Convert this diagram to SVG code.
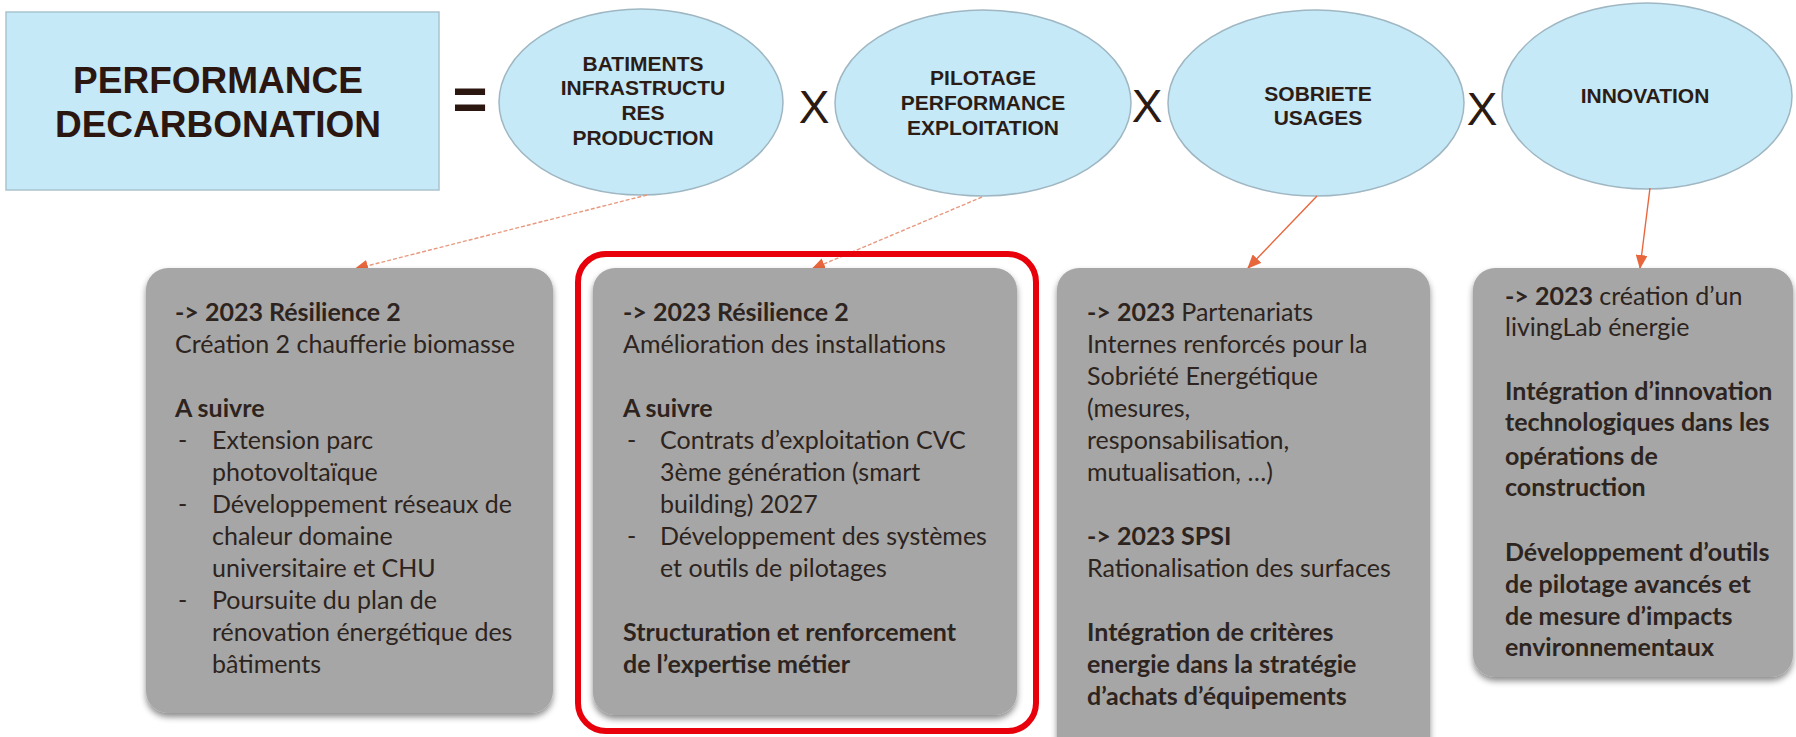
<svg xmlns="http://www.w3.org/2000/svg" width="1796" height="737" viewBox="0 0 1796 737">
<defs>
<filter id="sh" x="-10%" y="-10%" width="120%" height="120%">
<feDropShadow dx="0" dy="4" stdDeviation="3" flood-color="#000" flood-opacity="0.45"/>
</filter>
<marker id="ah" markerWidth="14" markerHeight="12" refX="13" refY="6" orient="auto" markerUnits="userSpaceOnUse">
<path d="M0,0 L14,6 L0,12 Z" fill="#e8663c"/>
</marker>
<style>
.blue{fill:#c6e9f8;stroke:#a8c3cf;stroke-width:1.5}
.ell{fill:#c6e9f8;stroke:#9fb7c2;stroke-width:1.5}
.etx{font-family:"Liberation Sans",Arial,sans-serif;font-weight:bold;font-size:21px;fill:#2b1d16;text-anchor:middle}
.title{font-family:"Liberation Sans",Arial,sans-serif;font-weight:bold;font-size:37px;fill:#2b1610;text-anchor:middle}
.op{font-family:"Liberation Sans",Arial,sans-serif;font-size:46px;fill:#2b1a12;text-anchor:middle}
.box{fill:#a6a6a6;filter:url(#sh)}
.t{font-family:Lato,"Open Sans",sans-serif;font-size:25px;fill:#2d2420}
.b{font-weight:bold}
.con{fill:none;stroke:#e8663c;stroke-width:1.4}
.dash{stroke:#e79a80;stroke-dasharray:4 2}
</style>
</defs>

<g id="title">
<rect class="blue" x="6" y="12" width="433" height="178"/>
<text class="title" x="218" y="93">PERFORMANCE</text>
<text class="title" x="218" y="137">DECARBONATION</text>
</g>

<g id="operators">
<text x="470" y="119" style="font-family:'Liberation Sans',Arial,sans-serif;font-weight:bold;font-size:60px;fill:#2b1610;text-anchor:middle">=</text>
<text class="op" x="814" y="123">X</text>
<text class="op" x="1147" y="122">X</text>
<text class="op" x="1482" y="125">X</text>
</g>

<g id="batiments">
<ellipse class="ell" cx="641" cy="102" rx="142" ry="93"/>
<text class="etx" x="643" y="71">BATIMENTS</text>
<text class="etx" x="643" y="95">INFRASTRUCTU</text>
<text class="etx" x="643" y="120">RES</text>
<text class="etx" x="643" y="145">PRODUCTION</text>
</g>

<g id="pilotage">
<ellipse class="ell" cx="983" cy="103" rx="148" ry="93"/>
<text class="etx" x="983" y="85">PILOTAGE</text>
<text class="etx" x="983" y="110">PERFORMANCE</text>
<text class="etx" x="983" y="135">EXPLOITATION</text>
</g>

<g id="sobriete">
<ellipse class="ell" cx="1316" cy="103" rx="148" ry="93"/>
<text class="etx" x="1318" y="101">SOBRIETE</text>
<text class="etx" x="1318" y="125">USAGES</text>
</g>

<g id="innovation">
<ellipse class="ell" cx="1647" cy="96" rx="145" ry="93"/>
<text class="etx" x="1645" y="103">INNOVATION</text>
</g>

<g id="connectors">
<line class="con dash" x1="647" y1="195" x2="355" y2="269" marker-end="url(#ah)"/>
<line class="con dash" x1="982" y1="197" x2="812" y2="269" marker-end="url(#ah)"/>
<line class="con" x1="1317" y1="196" x2="1248" y2="268" marker-end="url(#ah)"/>
<line class="con" x1="1650" y1="188" x2="1640" y2="268" marker-end="url(#ah)"/>
</g>

<g id="box-batiments">
<rect class="box" x="146" y="268" width="407" height="445" rx="22"/>
<text class="t b" x="175" y="321">-&gt; 2023 Résilience 2</text>
<text class="t" x="175" y="353">Création 2 chaufferie biomasse</text>
<text class="t b" x="175" y="417">A suivre</text>
<text class="t" x="178" y="449">-</text><text class="t" x="212" y="449">Extension parc</text>
<text class="t" x="212" y="481">photovoltaïque</text>
<text class="t" x="178" y="513">-</text><text class="t" x="212" y="513">Développement  réseaux de</text>
<text class="t" x="212" y="545">chaleur domaine</text>
<text class="t" x="212" y="577">universitaire et CHU</text>
<text class="t" x="178" y="609">-</text><text class="t" x="212" y="609">Poursuite du plan de</text>
<text class="t" x="212" y="641">rénovation énergétique  des</text>
<text class="t" x="212" y="673">bâtiments</text>
</g>

<g id="box-pilotage">
<rect x="578" y="254" width="458" height="477" rx="28" fill="none" stroke="#e8000b" stroke-width="6"/>
<rect class="box" x="593" y="268" width="424" height="447" rx="22"/>
<text class="t b" x="623" y="321">-&gt; 2023 Résilience 2</text>
<text class="t" x="623" y="353">Amélioration des installations</text>
<text class="t b" x="623" y="417">A suivre</text>
<text class="t" x="627" y="449">-</text><text class="t" x="660" y="449">Contrats d’exploitation CVC</text>
<text class="t" x="660" y="481">3ème  génération (smart</text>
<text class="t" x="660" y="513">building) 2027</text>
<text class="t" x="627" y="545">-</text><text class="t" x="660" y="545">Développement  des systèmes</text>
<text class="t" x="660" y="577">et outils  de pilotages</text>
<text class="t b" x="623" y="641">Structuration  et renforcement</text>
<text class="t b" x="623" y="673">de l’expertise métier</text>
</g>

<g id="box-sobriete">
<rect class="box" x="1057" y="268" width="373" height="500" rx="22"/>
<text class="t" x="1087" y="321"><tspan class="b">-&gt; 2023</tspan> Partenariats</text>
<text class="t" x="1087" y="353">Internes renforcés pour la</text>
<text class="t" x="1087" y="385">Sobriété Energétique</text>
<text class="t" x="1087" y="417">(mesures,</text>
<text class="t" x="1087" y="449">responsabilisation,</text>
<text class="t" x="1087" y="481">mutualisation, …)</text>
<text class="t b" x="1087" y="545">-&gt; 2023 SPSI</text>
<text class="t" x="1087" y="577">Rationalisation des surfaces</text>
<text class="t b" x="1087" y="641">Intégration de critères</text>
<text class="t b" x="1087" y="673">energie dans  la stratégie</text>
<text class="t b" x="1087" y="705">d’achats  d’équipements</text>
</g>

<g id="box-innovation">
<rect class="box" x="1473" y="268" width="320" height="409" rx="22"/>
<text class="t" x="1505" y="305"><tspan class="b">-&gt; 2023</tspan> création d’un</text>
<text class="t" x="1505" y="336">livingLab énergie</text>
<text class="t b" x="1505" y="400">Intégration d’innovation</text>
<text class="t b" x="1505" y="431">technologiques dans les</text>
<text class="t b" x="1505" y="465">opérations de</text>
<text class="t b" x="1505" y="496">construction</text>
<text class="t b" x="1505" y="561">Développement d’outils</text>
<text class="t b" x="1505" y="593">de pilotage avancés et</text>
<text class="t b" x="1505" y="625">de mesure d’impacts</text>
<text class="t b" x="1505" y="656">environnementaux</text>
</g>
</svg>
